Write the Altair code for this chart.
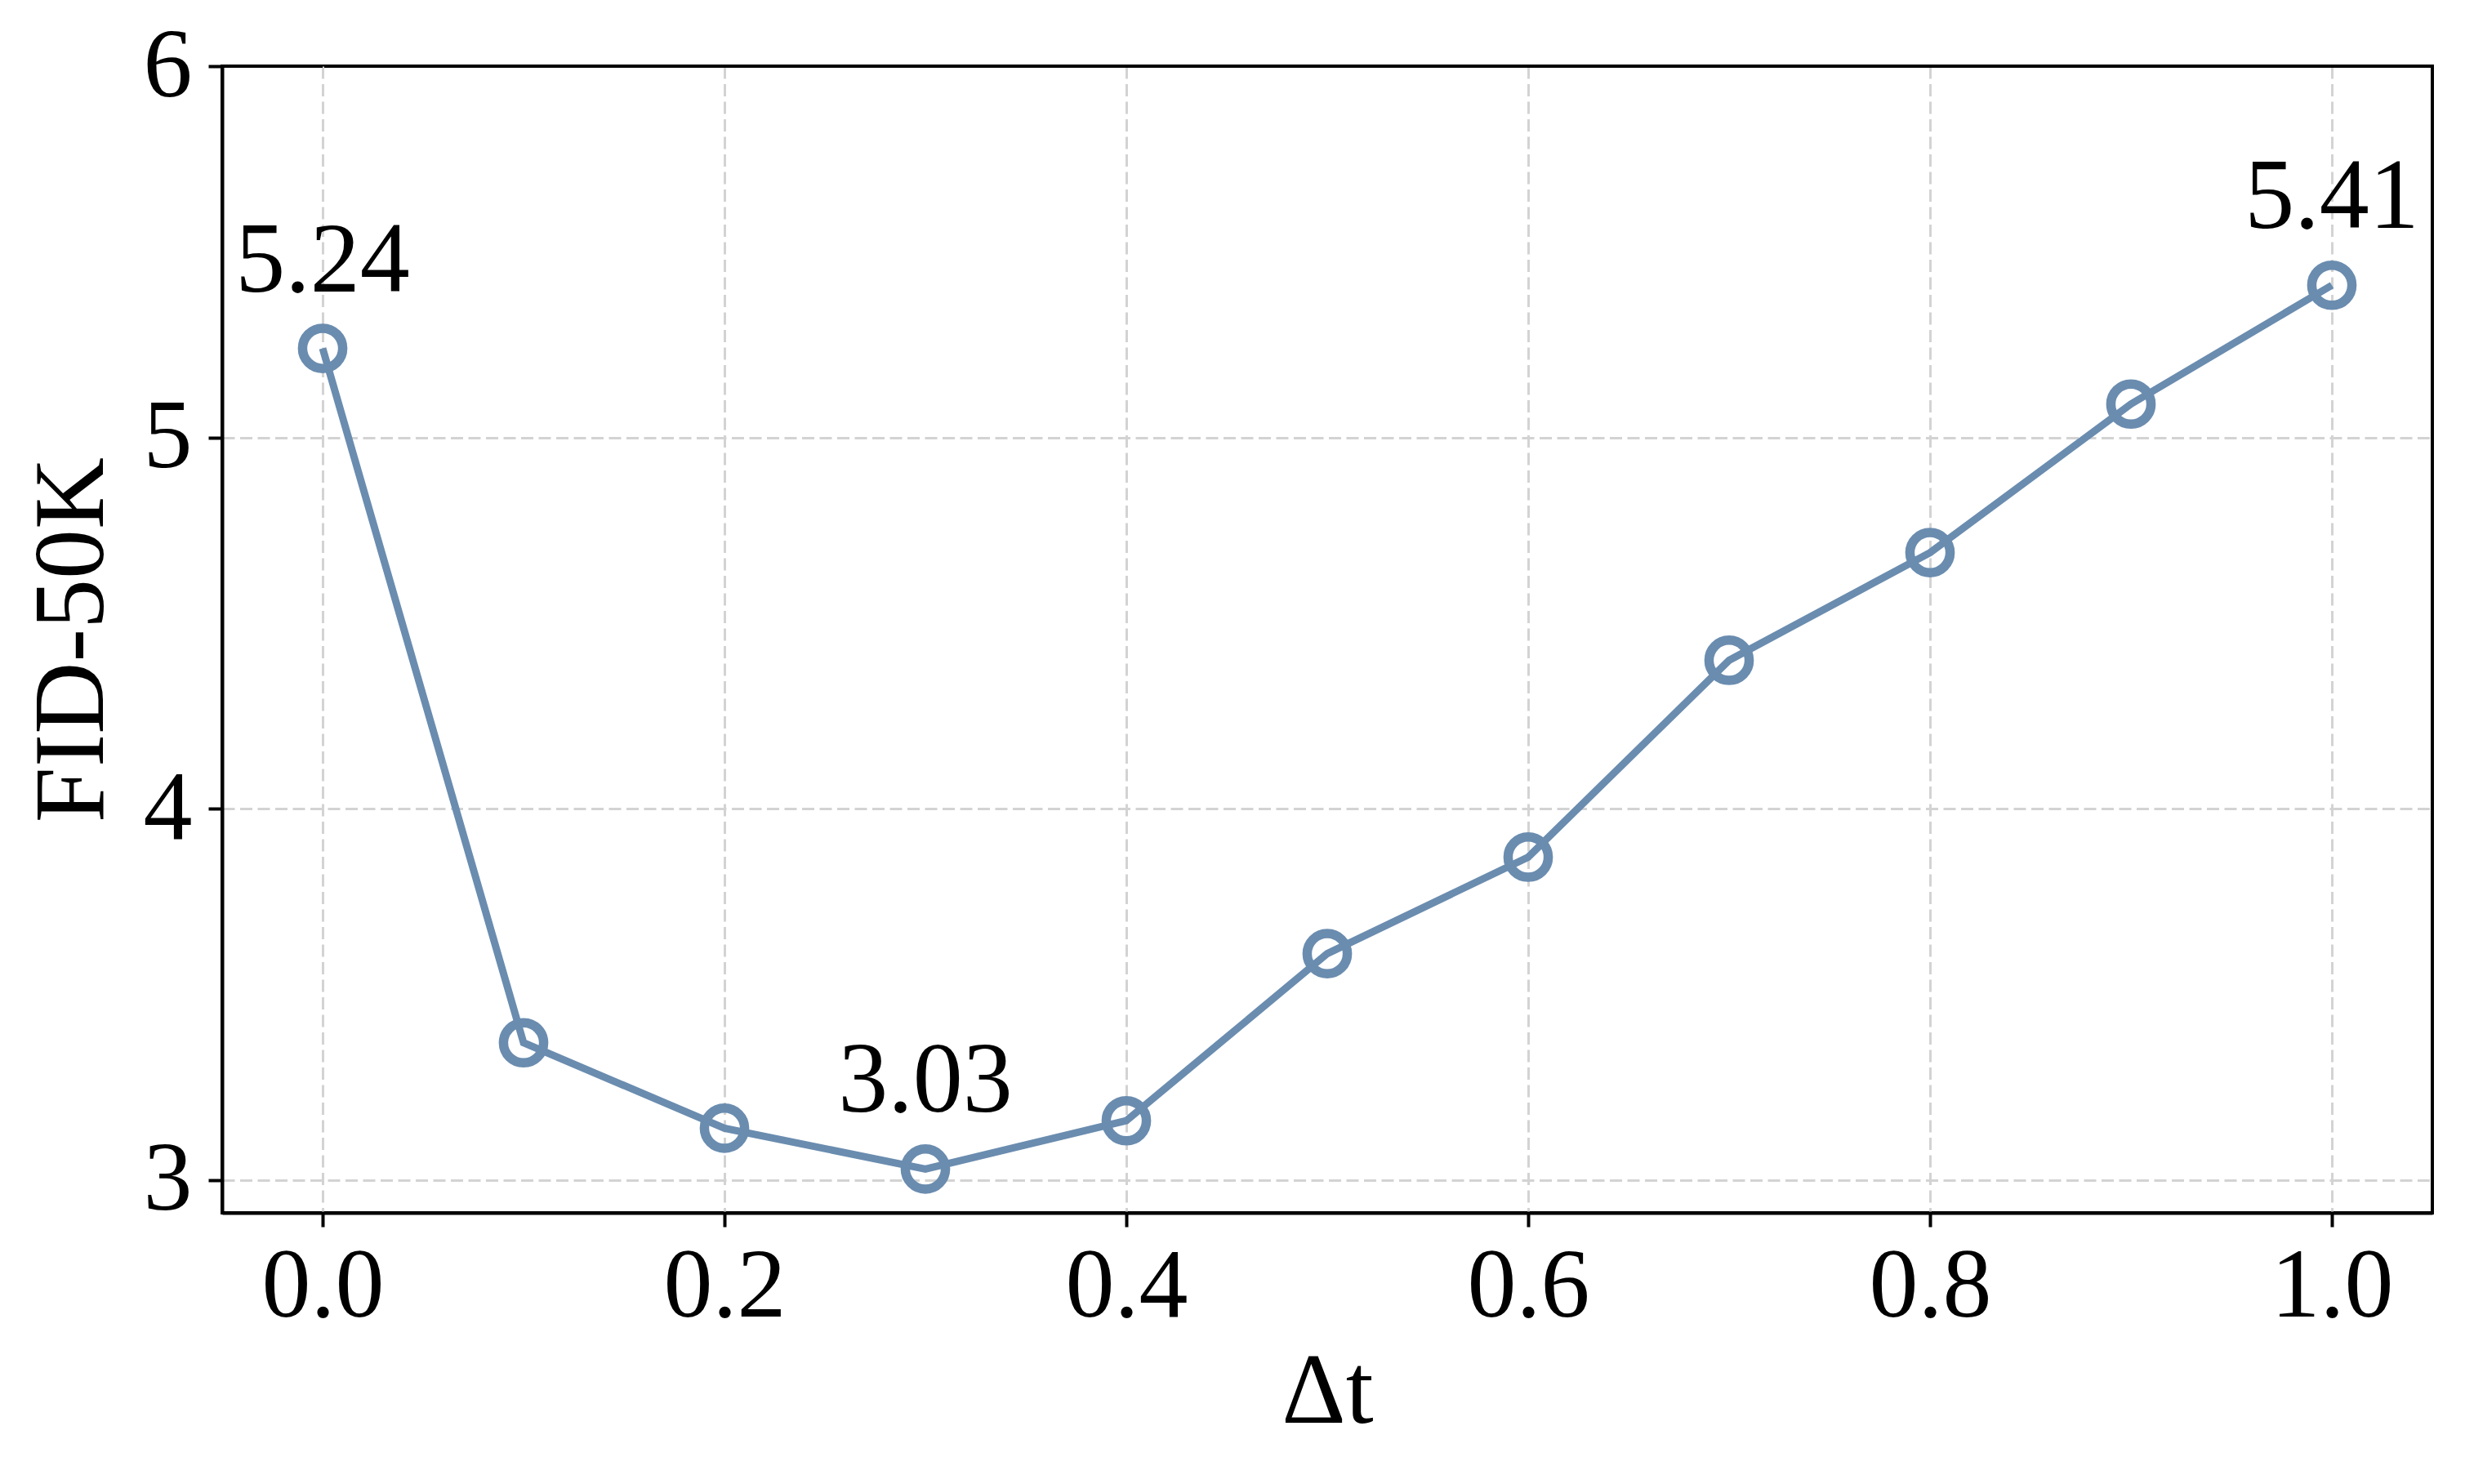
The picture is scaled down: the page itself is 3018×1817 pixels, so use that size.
import altair as alt
import pandas as pd

dt_values = [0.0, 0.1, 0.2, 0.3, 0.4, 0.5, 0.6, 0.7, 0.8, 0.9, 1.0]
fid_values = [5.24, 3.37, 3.14, 3.03, 3.16, 3.61, 3.87, 4.40, 4.69, 5.09, 5.41]

label_dt = [0.0, 0.3, 1.0]
label_fid = [5.24, 3.03, 5.41]
label_text = ["5.24", "3.03", "5.41"]

x_ticks = [0.0, 0.2, 0.4, 0.6, 0.8, 1.0]
y_ticks = [3, 4, 5, 6]

df = pd.DataFrame({"dt": dt_values, "fid": fid_values})
lab = pd.DataFrame({"dt": label_dt, "fid": label_fid, "text": label_text})

FONT = "Liberation Serif"
COLOR = "#6a8caf"

x_scale = alt.Scale(domain=[-0.05, 1.05], nice=False, zero=False)
y_scale = alt.Scale(domain=[2.912, 6.0], nice=False, zero=False)

x_enc = alt.X("dt:Q", scale=x_scale, axis=alt.Axis(
    values=x_ticks, format=".1f", title="Δt", titleFont=FONT, titleFontSize=122,
    titleFontWeight="normal", titlePadding=10, labelFont=FONT, labelFontSize=120,
    labelPadding=14, tickSize=17, tickWidth=4, tickColor="black", domainColor="black",
    domainWidth=4, labelColor="black", titleColor="black", gridColor="#d3d3d3",
    gridWidth=3, gridDash=[15, 6.5], labelFlush=False))
y_enc = alt.Y("fid:Q", scale=y_scale, axis=alt.Axis(
    values=y_ticks, format="d", title="FID-50K", titleFont=FONT, titleFontSize=122,
    titleFontWeight="normal", titlePadding=24, labelFont=FONT, labelFontSize=120,
    labelPadding=20, tickSize=17, tickWidth=4, tickColor="black", domainColor="black",
    domainWidth=4, labelColor="black", titleColor="black",
    gridColor={"condition": {"test": "datum.value >= 6", "value": "black"}, "value": "#d3d3d3"},
    gridWidth=3, gridDash=[15, 6.5], labelFlush=False))

line = alt.Chart(df).mark_line(color=COLOR, strokeWidth=9).encode(x=x_enc, y=y_enc)
points = alt.Chart(df).mark_point(shape="circle", size=2420, filled=False,
                                  color=COLOR, strokeWidth=11.5, opacity=1).encode(x="dt:Q", y="fid:Q")
texts = alt.Chart(lab).mark_text(font=FONT, fontSize=122, color="black",
                                 baseline="alphabetic", align="center", dy=-70).encode(
    x="dt:Q", y="fid:Q", text="text:N")

chart = alt.layer(line, points, texts).properties(
    width=2706, height=1404,
    background="white",
    autosize=alt.AutoSizeParams(type="none"),
    padding={"left": 264, "top": 73, "right": 20, "bottom": 320},
).configure_view(stroke="black", strokeWidth=4)

chart.save("out.html", embed_options={"renderer": "svg", "actions": False})
